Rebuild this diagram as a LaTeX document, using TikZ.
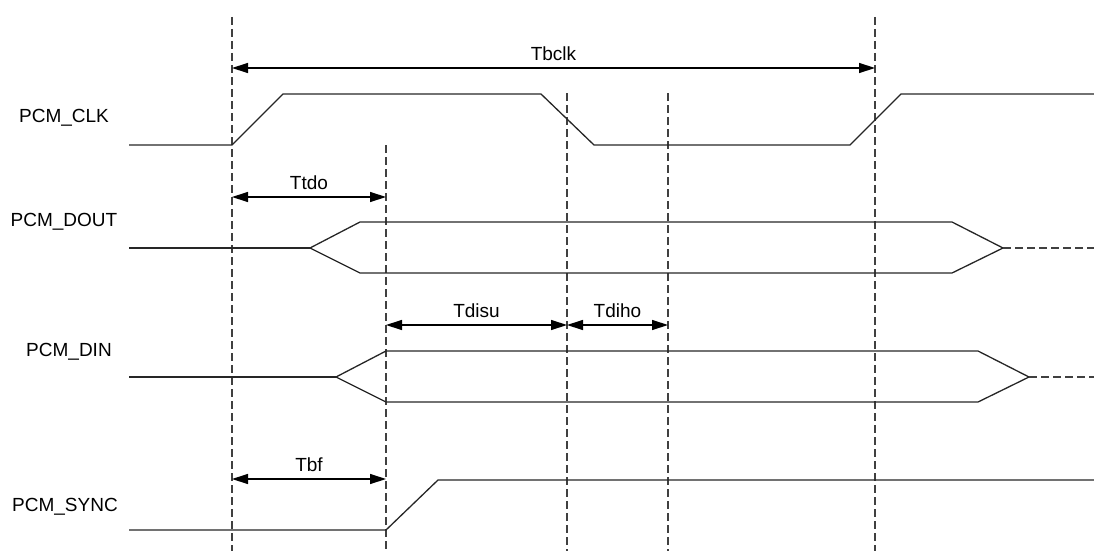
\documentclass[tikz,border=0pt]{standalone}
\usepackage{fontspec}
\setmainfont{Liberation Sans}
\usetikzlibrary{arrows.meta}
\begin{document}
\begin{tikzpicture}[x=1pt,y=-1pt,
  sig/.style={line width=1.3pt,black!85},
  guide/.style={line width=1.2pt,black!75,dash pattern=on 8pt off 4pt},
  dim/.style={line width=1.3pt,{Triangle[length=16pt,width=10pt]}-{Triangle[length=16pt,width=10pt]}},
  lbl/.style={font=\fontsize{19}{22}\selectfont,inner sep=0pt},
  tlbl/.style={font=\fontsize{19}{22}\selectfont,inner sep=0pt}]
\useasboundingbox (0,0) rectangle (1094,551);
% guide coordinates
\coordinate (g1t) at (232,17);  \coordinate (g1b) at (232,551);
\coordinate (g2t) at (386,145); \coordinate (g2b) at (386,551);
\coordinate (g3t) at (567,93);  \coordinate (g3b) at (567,551);
\coordinate (g4t) at (668,93);  \coordinate (g4b) at (668,551);
\coordinate (g5t) at (875,17);  \coordinate (g5b) at (875,551);
\foreach \g in {1,...,5} \draw[guide] (g\g t) -- (g\g b);
% labels
\node[lbl] (lclk) at (64,118) {PCM\_CLK};
\node[lbl] (ldout) at (64,222) {PCM\_DOUT};
\node[lbl] (ldin) at (69,352) {PCM\_DIN};
\node[lbl] (lsync) at (65,507) {PCM\_SYNC};
% CLK
\draw[sig] (129,145) -- (232,145) -- (283,94) -- (541,94) -- (594,145) -- (850,145) -- (901,94) -- (1094,94);
% DOUT
\draw[sig] (129,248) -- (310,248);
\draw[sig] (310,248) -- (360,222) -- (952,222) -- (1003,248) -- (952,273) -- (360,273) -- cycle;
\draw[guide] (1003,248) -- (1094,248);
% DIN
\draw[sig] (129,377) -- (336,377);
\draw[sig] (336,377) -- (386,351) -- (978,351) -- (1029,377) -- (978,402) -- (386,402) -- cycle;
\draw[guide] (1029,377) -- (1094,377);
% SYNC
\draw[sig] (129,530) -- (386,530) -- (438,480) -- (1094,480);
% dimension arrows
\coordinate (a1) at (232,68);  \coordinate (b1) at (875,68);
\draw[dim] (a1) -- (b1) node[tlbl,midway,above=7pt] (tbclk) {Tbclk};
\coordinate (a2) at (232,197); \coordinate (b2) at (386,197);
\draw[dim] (a2) -- (b2) node[tlbl,midway,above=7pt] (ttdo) {Ttdo};
\coordinate (a3) at (386,325); \coordinate (b3) at (567,325);
\draw[dim] (a3) -- (b3) node[tlbl,midway,above=7pt] (tdisu) {Tdisu};
\coordinate (a4) at (567,325); \coordinate (b4) at (668,325);
\draw[dim] (a4) -- (b4) node[tlbl,midway,above=7pt] (tdiho) {Tdiho};
\coordinate (a5) at (232,479); \coordinate (b5) at (386,479);
\draw[dim] (a5) -- (b5) node[tlbl,midway,above=7pt] (tbf) {Tbf};
\end{tikzpicture}
\end{document}
